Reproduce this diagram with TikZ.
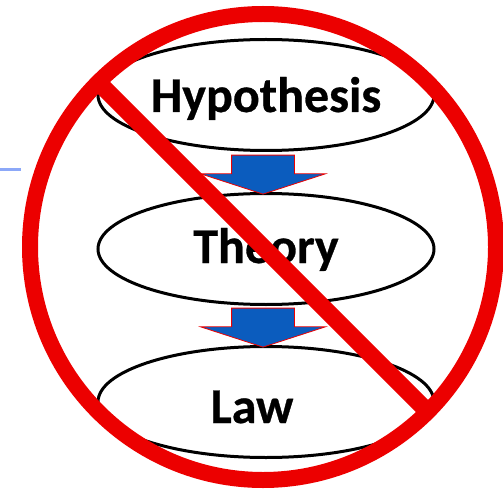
\documentclass[tikz,border=0pt]{standalone}
\usepackage{fontspec}
\setmainfont[BoldFeatures={FakeBold=0.6}]{Carlito}
\usepackage{xcolor}
\usetikzlibrary{shapes.geometric,shapes.arrows}
\definecolor{stopred}{HTML}{EC0000}
\definecolor{flowblue}{HTML}{0B5CBE}
\definecolor{stubblue}{HTML}{8CA8F8}
\begin{document}
\begin{tikzpicture}[x=1pt,y=-1pt,
  every node/.style={font=\fontsize{50}{50}\selectfont\bfseries,align=center},
  s/.style={ellipse,draw=black,fill=white,line width=3pt,minimum width=336pt,minimum height=111pt,inner sep=0pt,text depth=12pt,text height=#1},
  a/.style={single arrow,rotate=-90,draw=stopred,fill=flowblue,line width=0.8pt,inner xsep=0pt,inner ysep=31pt,minimum height=39pt,single arrow head extend=31pt,single arrow tip angle=144},
  r/.style={draw=stopred,line width=17pt}]
  \useasboundingbox (0,0) rectangle (503,489);
  \coordinate (stubl) at (0,169.5);
  \coordinate (stubr) at (21,169.5);
  \draw[stubblue,line width=3pt] (stubl)--(stubr);
  \node[s=46pt] (hyp) at (266,95) {Hypothesis};
  \node[s=40pt] (thy) at (266,249) {Theory};
  \node[s=54pt] (law) at (266,402) {Law\hspace{28pt}};
  \node[a] (ht) at (263,169.5) {};
  \node[a] (tl) at (263,322.5) {};
  \node[circle,draw=stopred,line width=16pt,minimum size=466pt,inner sep=0pt,outer sep=0pt] (ring) at (263,247) {};
  \draw[r] (ring.135)--(ring.-45);
\end{tikzpicture}
\end{document}
